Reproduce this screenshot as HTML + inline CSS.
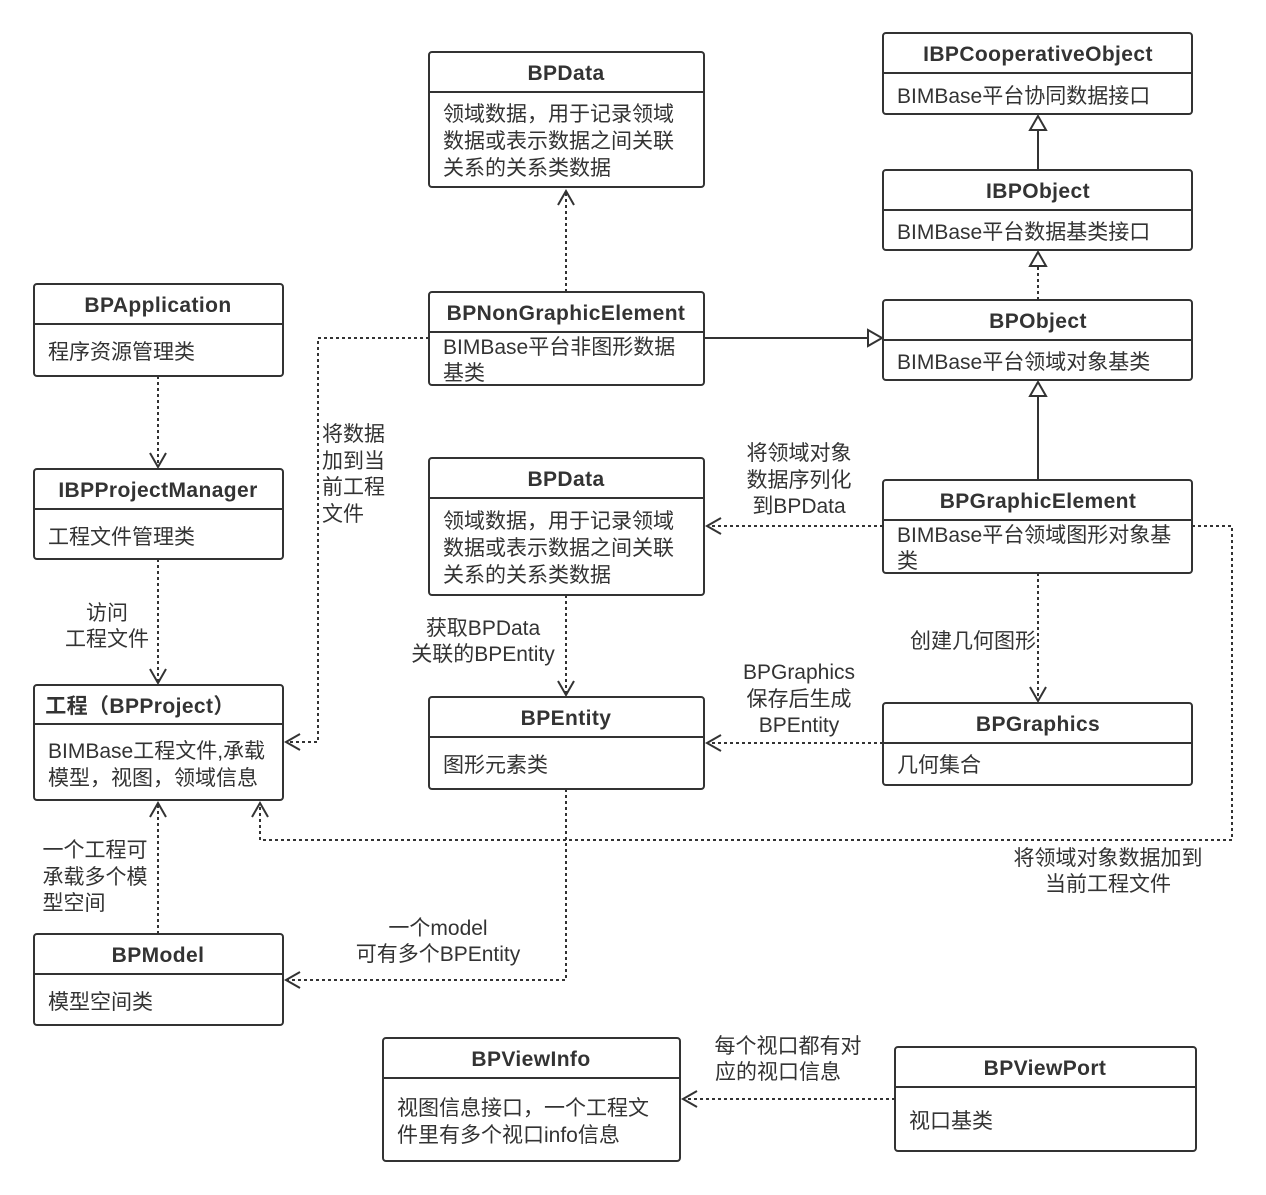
<!DOCTYPE html>
<html><head><meta charset="utf-8"><style>
html,body{margin:0;padding:0;background:#fff;}
svg{display:block;font-family:"Liberation Sans","Noto Sans CJK SC",sans-serif;}
.b{fill:#fff;stroke:#333;stroke-width:2;}
.d{stroke:#333;stroke-width:2;}
.t{font-weight:bold;font-size:21px;fill:#333;text-anchor:middle;letter-spacing:0.4px;}
.x{font-size:21px;fill:#333;}
.l{font-size:21px;fill:#333;text-anchor:middle;}
.dl{fill:none;stroke:#333;stroke-width:2;stroke-dasharray:3 3;}
.sl{fill:none;stroke:#333;stroke-width:2;}
.ah{fill:none;stroke:#333;stroke-width:2;}
.tri{fill:#fff;stroke:#333;stroke-width:2;}
</style></head><body>
<svg width="1266" height="1195" viewBox="0 0 1266 1195">
<path class="dl" d="M566 292V192"/><path class="ah" d="M558 205L566 191L574 205"/>
<path class="sl" d="M704 338H868"/><path class="tri" d="M868 330L882 338L868 346Z"/>
<path class="sl" d="M1038 170V130"/><path class="tri" d="M1030 130L1038 116L1046 130Z"/>
<path class="dl" d="M1038 300V266"/><path class="tri" d="M1030 266L1038 252L1046 266Z"/>
<path class="sl" d="M1038 480V396"/><path class="tri" d="M1030 396L1038 382L1046 396Z"/>
<path class="dl" d="M158 376V466"/><path class="ah" d="M150 453L158 467L166 453"/>
<path class="dl" d="M158 559V682"/><path class="ah" d="M150 669L158 683L166 669"/>
<path class="dl" d="M429 338H318V742H287"/><path class="ah" d="M300 734L286 742L300 750"/>
<path class="dl" d="M883 526H708"/><path class="ah" d="M721 518L707 526L721 534"/>
<path class="dl" d="M1192 526H1232V840H260V804"/><path class="ah" d="M252 817L260 803L268 817"/>
<path class="dl" d="M1038 573V700"/><path class="ah" d="M1030 687L1038 701L1046 687"/>
<path class="dl" d="M883 743H708"/><path class="ah" d="M721 735L707 743L721 751"/>
<path class="dl" d="M566 595V694"/><path class="ah" d="M558 681L566 695L574 681"/>
<path class="dl" d="M566 789V980H287"/><path class="ah" d="M300 972L286 980L300 988"/>
<path class="dl" d="M158 934V804"/><path class="ah" d="M150 817L158 803L166 817"/>
<path class="dl" d="M895 1099H684"/><path class="ah" d="M697 1091L683 1099L697 1107"/>

<g>
<rect class="b" x="429" y="52" width="275" height="135" rx="3"/><path class="d" d="M429 92H704"/>
<text class="t" x="566" y="80">BPData</text>
<text class="x" x="443" y="121">领域数据，用于记录领域</text><text class="x" x="443" y="148">数据或表示数据之间关联</text><text class="x" x="443" y="175">关系的关系类数据</text>

<rect class="b" x="883" y="33" width="309" height="81" rx="3"/><path class="d" d="M883 73H1192"/>
<text class="t" x="1038" y="61">IBPCooperativeObject</text>
<text class="x" x="897" y="103">BIMBase平台协同数据接口</text>

<rect class="b" x="883" y="170" width="309" height="80" rx="3"/><path class="d" d="M883 210H1192"/>
<text class="t" x="1038" y="198">IBPObject</text>
<text class="x" x="897" y="239">BIMBase平台数据基类接口</text>

<rect class="b" x="34" y="284" width="249" height="92" rx="3"/><path class="d" d="M34 324H283"/>
<text class="t" x="158" y="312">BPApplication</text>
<text class="x" x="48" y="359">程序资源管理类</text>

<rect class="b" x="429" y="292" width="275" height="93" rx="3"/><path class="d" d="M429 332H704"/>
<text class="t" x="566" y="320">BPNonGraphicElement</text>
<text class="x" x="443" y="354">BIMBase平台非图形数据</text><text class="x" x="443" y="380">基类</text>

<rect class="b" x="883" y="300" width="309" height="80" rx="3"/><path class="d" d="M883 340H1192"/>
<text class="t" x="1038" y="328">BPObject</text>
<text class="x" x="897" y="369">BIMBase平台领域对象基类</text>

<rect class="b" x="34" y="469" width="249" height="90" rx="3"/><path class="d" d="M34 509H283"/>
<text class="t" x="158" y="497">IBPProjectManager</text>
<text class="x" x="48" y="544">工程文件管理类</text>

<rect class="b" x="429" y="458" width="275" height="137" rx="3"/><path class="d" d="M429 498H704"/>
<text class="t" x="566" y="486">BPData</text>
<text class="x" x="443" y="528">领域数据，用于记录领域</text><text class="x" x="443" y="555">数据或表示数据之间关联</text><text class="x" x="443" y="582">关系的关系类数据</text>

<rect class="b" x="883" y="480" width="309" height="93" rx="3"/><path class="d" d="M883 520H1192"/>
<text class="t" x="1038" y="508">BPGraphicElement</text>
<text class="x" x="897" y="542">BIMBase平台领域图形对象基</text><text class="x" x="897" y="568">类</text>

<rect class="b" x="34" y="685" width="249" height="115" rx="3"/><path class="d" d="M34 724H283"/>
<text class="t" x="140" y="713">工程（BPProject）</text>
<text class="x" x="48" y="758">BIMBase工程文件,承载</text><text class="x" x="48" y="785">模型，视图，领域信息</text>

<rect class="b" x="429" y="697" width="275" height="92" rx="3"/><path class="d" d="M429 737H704"/>
<text class="t" x="566" y="725">BPEntity</text>
<text class="x" x="443" y="772">图形元素类</text>

<rect class="b" x="883" y="703" width="309" height="82" rx="3"/><path class="d" d="M883 743H1192"/>
<text class="t" x="1038" y="731">BPGraphics</text>
<text class="x" x="897" y="772">几何集合</text>

<rect class="b" x="34" y="934" width="249" height="91" rx="3"/><path class="d" d="M34 974H283"/>
<text class="t" x="158" y="962">BPModel</text>
<text class="x" x="48" y="1009">模型空间类</text>

<rect class="b" x="383" y="1038" width="297" height="123" rx="3"/><path class="d" d="M383 1078H680"/>
<text class="t" x="531" y="1066">BPViewInfo</text>
<text class="x" x="397" y="1115">视图信息接口，一个工程文</text><text class="x" x="397" y="1142">件里有多个视口info信息</text>

<rect class="b" x="895" y="1047" width="301" height="104" rx="3"/><path class="d" d="M895 1087H1196"/>
<text class="t" x="1045" y="1075">BPViewPort</text>
<text class="x" x="909" y="1128">视口基类</text>
</g>

<g>
<text class="l" x="107" y="620">访问</text><text class="l" x="107" y="646">工程文件</text>
<text class="x" x="322" y="441">将数据</text><text class="x" x="322" y="468">加到当</text><text class="x" x="322" y="494">前工程</text><text class="x" x="322" y="521">文件</text>
<text class="l" x="799" y="460">将领域对象</text><text class="l" x="799" y="487">数据序列化</text><text class="l" x="799" y="513">到BPData</text>
<text class="l" x="973" y="648">创建几何图形</text>
<text class="l" x="799" y="679">BPGraphics</text><text class="l" x="799" y="706">保存后生成</text><text class="l" x="799" y="732">BPEntity</text>
<text class="l" x="483" y="635">获取BPData</text><text class="l" x="483" y="661">关联的BPEntity</text>
<text class="l" x="1108" y="865">将领域对象数据加到</text><text class="l" x="1108" y="891">当前工程文件</text>
<text class="l" x="438" y="935">一个model</text><text class="l" x="438" y="961">可有多个BPEntity</text>
<text class="l" x="95" y="857">一个工程可</text><text class="l" x="95" y="884">承载多个模</text><text class="l" x="74" y="910">型空间</text>
<text class="l" x="788" y="1053">每个视口都有对</text><text class="l" x="778" y="1079">应的视口信息</text>
</g>
</svg>
</body></html>
